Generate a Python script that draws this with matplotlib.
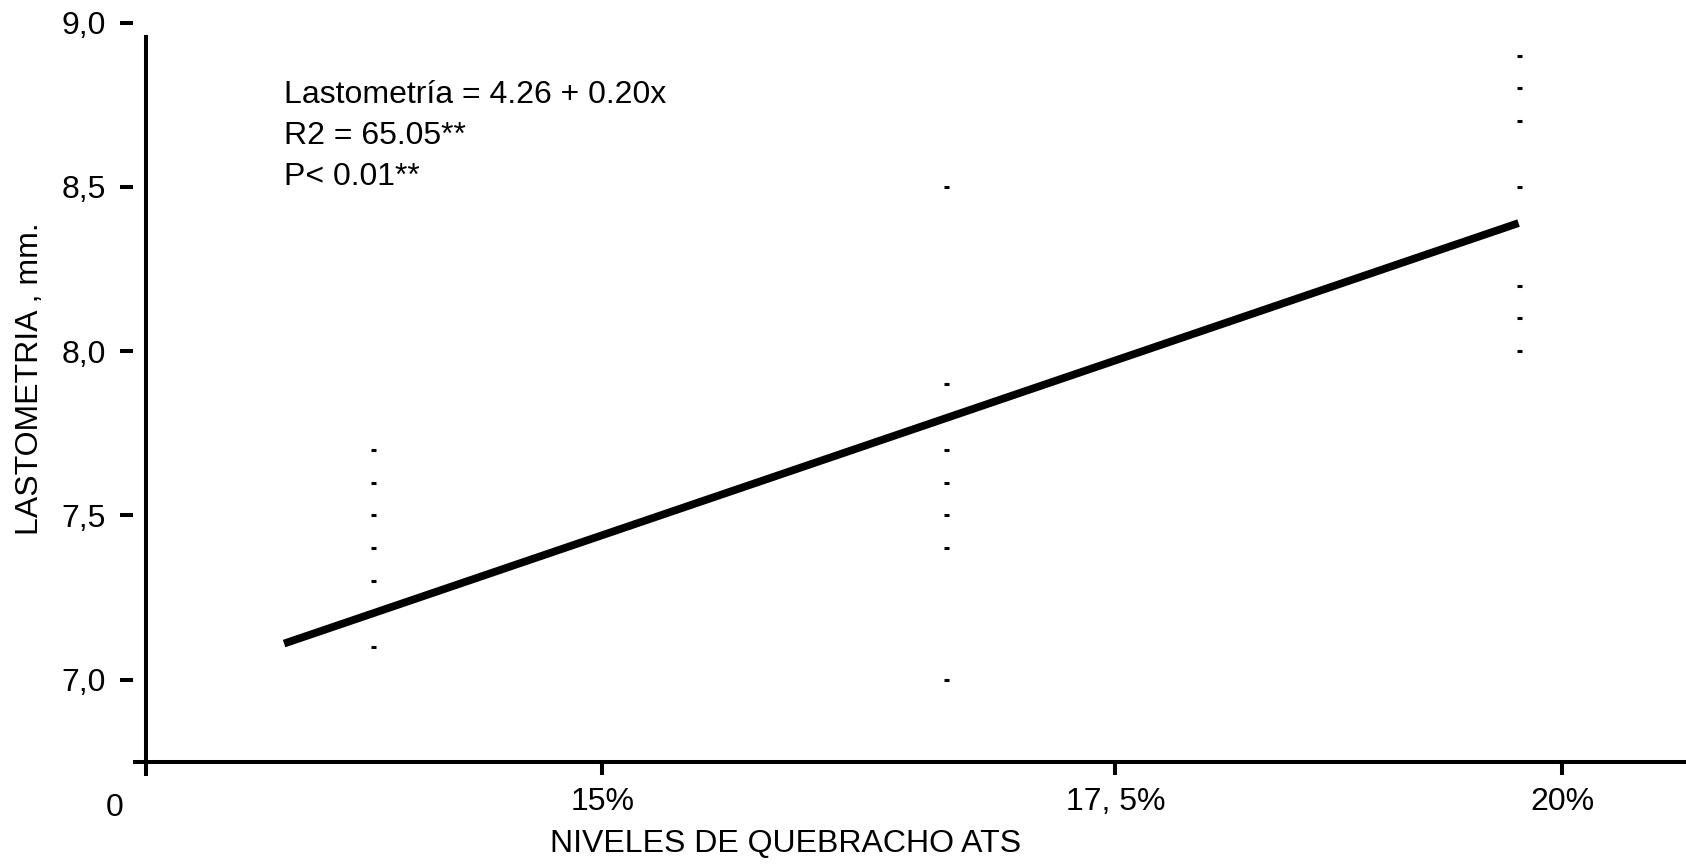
import matplotlib.pyplot as plt

plt.rcParams['font.family'] = ['Liberation Sans', 'DejaVu Sans']

# niveles de quebracho (%) y lecturas de lastometria (mm) en cada nivel
niveles = [15.0, 17.5, 20.0]
lect_15 = [7.7, 7.6, 7.5, 7.4, 7.3, 7.1]
lect_175 = [8.5, 7.9, 7.7, 7.6, 7.5, 7.4, 7.0]
lect_20 = [8.9, 8.8, 8.7, 8.5, 8.2, 8.1, 8.0]

# recta de regresion (extremos)
recta_x = [14.61, 20.0]
recta_y = [7.11, 8.39]

y_ticks = [7.0, 7.5, 8.0, 8.5, 9.0]
y_labels = ['7,0', '7,5', '8,0', '8,5', '9,0']
x_ticks = [16.0, 18.24, 20.19]
x_labels = ['15%', '17, 5%', '20%']

texto = ['Lastometría = 4.26 + 0.20x', 'R2 = 65.05**', 'P< 0.01**']

W, H = 1686, 866
fig = plt.figure(figsize=(W / 100, H / 100), dpi=100)
ax = fig.add_axes([146 / W, 1 - 762.3 / H, 1540 / W, 742.3 / H])

ax.set_xlim(14.007, 20.731)
ax.set_ylim(6.7486, 9.0082)

for sp in ax.spines.values():
    sp.set_visible(False)
# ticks del eje y separados del eje
ax.spines['left'].set_position(('outward', 9.4))

# ejes dibujados a mano, cruzados en el origen
ax.plot([-13 / 1540, 1], [0, 0], transform=ax.transAxes, clip_on=False,
        color='k', lw=2.9, solid_capstyle='butt')
ax.plot([0, 0], [0.9798, -0.0185], transform=ax.transAxes, clip_on=False,
        color='k', lw=2.9, solid_capstyle='butt')

ax.set_yticks(y_ticks)
ax.set_yticklabels(y_labels)
ax.set_xticks(x_ticks)
ax.set_xticklabels(x_labels)
ax.tick_params(axis='y', direction='out', length=9.4, width=2.9, pad=10,
               labelsize=23)
ax.tick_params(axis='x', direction='out', length=9.4, width=2.9, pad=8.5,
               labelsize=23)

# puntos
for x, vals in zip(niveles, [lect_15, lect_175, lect_20]):
    ax.plot([x] * len(vals), vals, ls='none', marker='_', ms=3.6, mew=2.2,
            color='k')

ax.plot(recta_x, recta_y, color='k', lw=5.6, solid_capstyle='butt')

for i, t in enumerate(texto):
    fig.text(284 / W, 1 - (103.3 + 40.8 * i) / H, t, fontsize=23,
             va='baseline', ha='left')

fig.text(115 / W, 1 - 808 / H, '0', fontsize=23, ha='center', va='center')
fig.text(786 / W, 1 - 844 / H, 'NIVELES DE QUEBRACHO ATS', fontsize=23,
         ha='center', va='center')
fig.text(30 / W, 1 - 379 / H, 'LASTOMETRIA , mm.', fontsize=23,
         rotation=90, ha='center', va='center')

fig.savefig('out.png', dpi=100)
